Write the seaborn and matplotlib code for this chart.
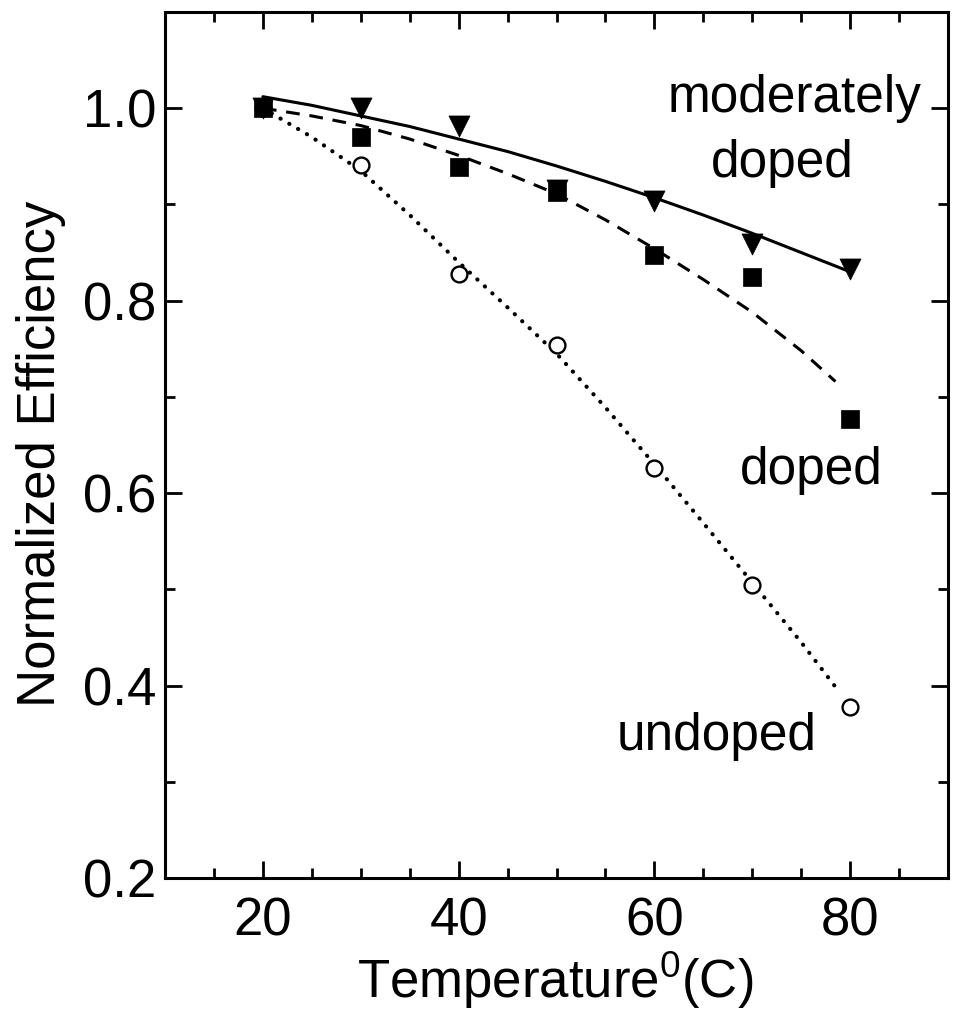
import matplotlib
matplotlib.use('Agg')
import matplotlib.pyplot as plt
import matplotlib.ticker as mticker
import seaborn as sns

# ---- data ----
temps = [20, 30, 40, 50, 60, 70, 80]
moderately_doped = [1.0, 1.0, 0.982, 0.915, 0.904, 0.859, 0.833]
doped = [1.0, 0.970, 0.939, 0.913, 0.847, 0.825, 0.677]
undoped = [1.0, 0.941, 0.828, 0.754, 0.626, 0.504, 0.378]

# fitted curves
fit_mod_x = [20, 25, 30, 35, 40, 45, 50, 55, 60, 65, 70, 75, 80]
fit_mod_y = [1.012, 1.003, 0.992, 0.981, 0.968, 0.955, 0.940, 0.924, 0.907, 0.889, 0.870, 0.850, 0.830]
fit_dop_x = [20, 25, 30, 35, 40, 45, 50, 55, 60, 65, 70, 75, 78.5]
fit_dop_y = [1.0, 0.992, 0.982, 0.968, 0.951, 0.932, 0.911, 0.884, 0.854, 0.822, 0.788, 0.748, 0.716]
fit_und_x = [20, 25, 30, 35, 40, 45, 50, 55, 60, 65, 70, 75, 79]
fit_und_y = [1.0, 0.970, 0.935, 0.889, 0.840, 0.793, 0.745, 0.689, 0.630, 0.569, 0.507, 0.445, 0.392]

x_major = [20, 40, 60, 80]
y_major = [0.2, 0.4, 0.6, 0.8, 1.0]
y_labels = ['0.2', '0.4', '0.6', '0.8', '1.0']

sns.set_style('ticks')
plt.rcParams['font.family'] = ['Liberation Sans', 'DejaVu Sans']
plt.rcParams['mathtext.fontset'] = 'custom'
plt.rcParams['mathtext.rm'] = 'Liberation Sans'
plt.rcParams['mathtext.it'] = 'Liberation Sans'
plt.rcParams['text.color'] = 'black'
plt.rcParams['axes.labelcolor'] = 'black'
plt.rcParams['xtick.color'] = 'black'
plt.rcParams['ytick.color'] = 'black'

fig = plt.figure(figsize=(9.56, 10.36), dpi=100)
L, R, T, B = 165, 948, 12, 878
ax = fig.add_axes([L/956, 1 - B/1036, (R - L)/956, (B - T)/1036])

lw = 2.2
sns.lineplot(x=fit_mod_x, y=fit_mod_y, ax=ax, color='black', lw=lw, sort=False)
sns.lineplot(x=fit_dop_x, y=fit_dop_y, ax=ax, color='black', lw=lw, sort=False,
             linestyle=(0, (4.5, 3.2)))
sns.lineplot(x=fit_und_x, y=fit_und_y, ax=ax, color='black', lw=3.0, sort=False,
             linestyle=(0, (0.05, 2.4)), dash_capstyle='round')

sns.scatterplot(x=temps, y=undoped, ax=ax, marker='o', s=130,
                color='white', edgecolor='black', linewidth=1.7, zorder=3)
sns.scatterplot(x=temps, y=moderately_doped, ax=ax, marker='v', s=230,
                color='black', edgecolor='black', linewidth=0.5, zorder=4)
sns.scatterplot(x=temps, y=doped, ax=ax, marker='s', s=150,
                color='black', edgecolor='black', linewidth=0.5, zorder=5)

ax.set_xlim(10, 90)
ax.set_ylim(0.2, 1.1)
ax.set_xticks(x_major)
ax.set_xticklabels([str(v) for v in x_major])
ax.xaxis.set_minor_locator(mticker.MultipleLocator(5))
ax.set_yticks(y_major)
ax.set_yticklabels(y_labels)
ax.yaxis.set_minor_locator(mticker.MultipleLocator(0.1))

ax.tick_params(which='both', direction='in', top=True, right=True, width=2)
ax.tick_params(which='major', length=12)
ax.tick_params(which='minor', length=7)
ax.tick_params(axis='y', which='major', labelsize=38, pad=6)
ax.tick_params(axis='x', which='major', labelsize=38, pad=13)
for sp in ax.spines.values():
    sp.set_linewidth(2.2)
    sp.set_color('black')

ax.set_xlabel('$\\mathrm{Temperature}^{0}\\mathrm{(C)}$', fontsize=38)
ax.set_ylabel('Normalized Efficiency', fontsize=38)
ax.xaxis.set_label_coords((555 - L) / (R - L), (B - 950) / (B - T))
ax.yaxis.set_label_coords((66 - L) / (R - L), (B - 454) / (B - T))

txt = dict(fontsize=37, ha='center', va='center', color='black')
ax.text(74.3, 1.010, 'moderately', **txt)
ax.text(73.1, 0.943, 'doped', **txt)
ax.text(76.0, 0.623, 'doped', **txt)
ax.text(66.4, 0.347, 'undoped', **txt)

fig.savefig('out.png', dpi=100)
